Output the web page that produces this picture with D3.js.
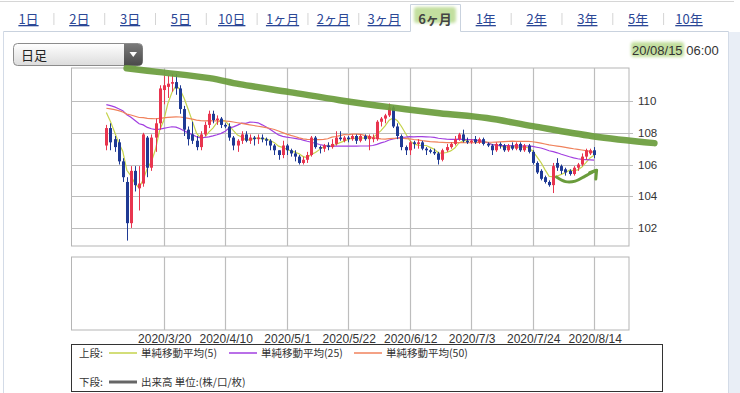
<!DOCTYPE html>
<html><head><meta charset="utf-8">
<script src="https://cdn.jsdelivr.net/npm/d3@7"></script>
<style>
html,body{margin:0;padding:0;background:#fff;}
svg{display:block;}
</style></head><body>
<svg id="c" width="740" height="393"></svg>
<script>
// ---------- data ----------
const tabs = ["1日","2日","3日","5日","10日","1ヶ月","2ヶ月","3ヶ月","6ヶ月","1年","2年","3年","5年","10年"];
const activeTab = "6ヶ月";
const periodLabel = "日足";
const stampDate = "20/08/15";
const stampTime = "06:00";
const firstDay = "2020-03-02", lastDay = "2020-08-14";
const tickDates = ["2020/3/20","2020/4/10","2020/5/1","2020/5/22","2020/6/12","2020/7/3","2020/7/24","2020/8/14"];
const yTicks = [102,104,106,108,110];
const yDomain = [100.86, 112.09];

// closes before the first visible bar (for moving averages)
const priorCloses = [109.37,109.39,109.62,109.44,108.87,108.61,108.68,108.54,108.08,108.37,108.43,109.08,109.51,109.45,109.94,109.98,109.89,110.14,110.15,110.17,109.87,109.85,109.48,109.27,108.88,109.18,109.03,108.97,108.35,108.66,109.52,109.84,109.96,109.75,109.77,109.83,110.08,109.82,109.77,109.87,110.00,111.40,112.08,111.57,110.74,110.21,110.42,109.56,107.89];

const opens = [107.2,108.3,107.6,107.4,106.2,104.9,102.3,105.6,104.5,104.8,
107.7,105.8,107.7,108.6,110.7,110.9,111.1,111.2,110.8,109.5,
108.2,107.9,107.5,107.1,107.9,108.5,109.2,108.8,108.9,108.5,
108.4,107.7,107.2,107.5,107.9,107.5,107.7,107.6,107.7,107.6,
107.5,107.2,106.9,106.6,107.2,106.9,106.7,106.5,106.1,106.3,
106.6,107.7,107.1,107.0,107.2,107.1,107.3,107.7,107.5,107.7,
107.6,107.8,107.5,107.8,107.6,107.6,107.6,108.7,108.9,109.1,
109.6,108.4,107.8,107.1,106.9,107.4,107.3,107.4,107.0,106.9,
106.8,106.7,106.3,106.9,107.1,107.3,107.6,107.9,107.5,107.4,
107.6,107.4,107.6,107.3,107.2,106.9,107.3,107.2,106.9,107.2,
107.0,107.3,106.9,107.2,106.8,106.1,105.6,105.2,104.9,104.7,
106.1,105.9,105.7,105.6,105.4,105.8,106.0,106.5,106.7,106.9];
const highs = [108.5,108.6,107.8,107.6,106.4,105.2,105.9,105.9,105.9,108.0,
107.8,107.9,108.9,111.0,111.6,111.6,111.7,111.7,111.0,109.7,
108.4,108.7,107.8,108.1,108.7,109.4,109.4,109.1,109.0,108.6,
108.6,107.8,107.6,108.1,108.1,107.9,107.8,107.9,107.9,107.7,
107.6,107.3,106.9,107.5,107.3,107.0,106.9,106.6,106.5,106.8,
107.8,107.8,107.2,107.3,107.4,107.6,108.1,108.1,107.8,107.8,
107.9,107.9,107.9,107.9,107.9,107.9,108.8,109.0,109.2,109.85,
109.7,108.6,107.9,107.2,107.5,107.5,107.6,107.5,107.1,107.0,
107.0,106.8,107.0,107.3,107.4,107.8,108.0,108.2,107.7,107.6,
107.8,107.7,107.7,107.4,107.3,107.4,107.4,107.3,107.3,107.4,
107.4,107.4,107.3,107.3,106.9,106.2,105.7,105.3,105.0,106.1,
106.4,106.0,105.8,105.7,105.9,106.1,106.7,107.0,107.0,107.1];
const lows = [106.9,106.9,106.8,106.0,104.9,101.2,102.0,104.3,103.1,104.6,
105.2,105.6,106.8,108.2,109.8,110.2,110.6,110.4,109.2,107.8,
107.2,107.3,106.9,106.9,107.8,108.3,108.6,108.5,108.3,108.3,
107.5,106.9,106.8,107.3,107.4,107.3,107.2,107.3,107.4,107.2,
106.9,106.6,106.3,106.4,106.6,106.5,106.2,106.0,106.0,106.1,
106.5,107.0,106.7,106.8,106.9,107.0,107.2,107.5,107.4,107.4,
107.5,107.3,107.4,107.5,106.9,107.4,107.5,108.4,108.6,109.0,
108.3,107.6,106.9,106.6,106.6,107.0,107.0,106.9,106.6,106.7,
106.6,106.0,106.2,106.8,107.0,107.2,107.5,107.4,107.3,107.3,
107.3,107.3,107.2,107.1,106.6,106.8,107.0,106.8,106.8,106.9,
106.9,106.8,106.8,106.7,106.0,105.4,105.0,104.8,104.6,104.2,
105.6,105.4,105.3,105.3,105.3,105.6,105.9,106.3,106.6,106.4];
const closes = [108.3,107.4,107.1,106.2,105.2,102.3,105.6,104.7,104.8,107.9,
105.8,107.7,108.6,110.8,111.0,111.1,111.2,110.8,109.5,108.2,
107.6,107.5,107.1,107.9,108.5,109.2,108.8,108.9,108.5,108.4,
107.7,107.2,107.5,107.9,107.5,107.7,107.6,107.7,107.6,107.5,
107.2,106.9,106.6,107.2,106.9,106.7,106.5,106.1,106.3,106.6,
107.7,107.1,107.0,107.2,107.1,107.3,107.7,107.6,107.7,107.6,
107.8,107.5,107.8,107.6,107.8,107.7,108.7,108.9,109.1,109.6,
108.4,107.8,107.1,106.9,107.4,107.3,107.4,107.0,106.9,106.8,
106.7,106.3,106.9,107.1,107.3,107.6,107.9,107.5,107.4,107.5,
107.4,107.6,107.3,107.2,106.9,107.3,107.2,106.9,107.2,107.0,
107.3,106.9,107.2,106.8,106.1,105.5,105.1,104.9,104.7,105.9,
105.8,105.6,105.5,105.4,105.8,106.0,106.5,106.9,106.9,106.6];

const maPeriods = [5,25,50];
const maNames = ["単純移動平均(5)","単純移動平均(25)","単純移動平均(50)"];
const maColors = ["#c5d34c","#a23fe0","#f0825c"];

// hand-drawn annotation, in (bar index, price) space
const annoLine = [[4.95,112.08],[13.0,111.83],[25.2,111.45],[32.5,111.07],[44.7,110.57],[56.9,110.06],[69.1,109.62],[81.3,109.24],[92.8,108.93],[104.0,108.42],[118.6,107.79],[133.7,107.35]];
const annoArrow = [[109.8,105.21],[112.0,104.92],[114.4,104.95],[116.8,105.27],[118.8,105.55],[119.6,105.62]];
const annoHead = [[117.9,105.49],[119.6,105.64],[119.4,105.08]];

// ---------- setup ----------
const svg = d3.select("#c");
const P = {l:71.5, r:629, t:68, b:246};
const V = {t:257, b:330};
const x = d3.scaleLinear().domain([-8.5,127.5]).range([P.l,P.r]);
const y = d3.scaleLinear().domain(yDomain).range([P.b,P.t]);
const fmt = d3.timeFormat("%Y/%-m/%-d");
const days = d3.timeDay.range(new Date(firstDay+"T00:00"), d3.timeDay.offset(new Date(lastDay+"T00:00"),1))
  .filter(d=>d.getDay()!==0 && d.getDay()!==6);
const dayLabels = days.map(fmt);
const idx = d3.range(closes.length);

const blur = svg.append("defs").append("filter").attr("id","bl").attr("x","-20%").attr("y","-40%").attr("width","140%").attr("height","180%");
blur.append("feGaussianBlur").attr("stdDeviation",1.4);

// page frame
svg.append("rect").attr("x",729).attr("y",32).attr("width",11).attr("height",361).attr("fill","#e9eef6");
svg.append("line").attr("x1",0).attr("x2",734).attr("y1",1.5).attr("y2",1.5).attr("stroke","#d6d6d6");
svg.append("line").attr("x1",3.5).attr("x2",3.5).attr("y1",31.5).attr("y2",393).attr("stroke","#d3dbe7");
svg.append("line").attr("x1",728.5).attr("x2",728.5).attr("y1",31.5).attr("y2",393).attr("stroke","#d3dbe7");
svg.append("path").attr("d","M3.5,31.5H410.5V4.5H460.5V31.5H728.5").attr("fill","none").attr("stroke","#c9d2de");

// tabs
const tx = d3.scalePoint().domain(tabs).range([28.5,689]);
const tabG = svg.append("g").attr("font-family","'Noto Sans CJK JP','Noto Sans',sans-serif").attr("font-size",13);
const aX = tx(activeTab);
tabG.append("rect").attr("x",aX-21).attr("y",7).attr("width",42).attr("height",16).attr("rx",3)
  .attr("fill","#c3df9f").attr("filter","url(#bl)");
tabs.forEach((t,i)=>{
  const on = t===activeTab;
  tabG.append("text").attr("x",tx(t)).attr("y",24).attr("text-anchor","middle")
    .attr("fill",on?"#444":"#2b4796").attr("font-weight",on?"bold":"normal")
    .style("text-decoration",on?"none":"underline").text(t);
  if(i<tabs.length-1 && !on && tabs[i+1]!==activeTab){
    const sx=(tx(t)+tx(tabs[i+1]))/2;
    tabG.append("line").attr("x1",sx).attr("x2",sx).attr("y1",13).attr("y2",25).attr("stroke","#d4d4d4");
  }
});

// dropdown
const grad = svg.select("defs").append("linearGradient").attr("id","gw").attr("x1",0).attr("x2",0).attr("y1",0).attr("y2",1);
grad.append("stop").attr("offset",0).attr("stop-color","#ffffff");
grad.append("stop").attr("offset",1).attr("stop-color","#dcdcdc");
const grad2 = svg.select("defs").append("linearGradient").attr("id","gd").attr("x1",0).attr("x2",0).attr("y1",0).attr("y2",1);
grad2.append("stop").attr("offset",0).attr("stop-color","#7a7a7a");
grad2.append("stop").attr("offset",1).attr("stop-color","#4a4a4a");
svg.append("rect").attr("x",13.5).attr("y",43.5).attr("width",129).attr("height",22).attr("rx",4).attr("fill","url(#gw)").attr("stroke","#8c8c8c");
svg.append("path").attr("d","M124,44 H138.5 A4,4 0 0 1 142.5,48 V61.5 A4,4 0 0 1 138.5,65.5 H124 Z").attr("fill","url(#gd)");
svg.append("path").attr("d","M129.5,52 L137,52 L133.25,57 Z").attr("fill","#fff");
svg.append("text").attr("x",21).attr("y",59.5).attr("font-family","'Noto Sans CJK JP',sans-serif").attr("font-size",13).attr("fill","#222").text(periodLabel);

// timestamp
svg.append("rect").attr("x",631).attr("y",42).attr("width",53).attr("height",15).attr("rx",3).attr("fill","#c3df9f").attr("filter","url(#bl)");
svg.append("text").attr("x",632).attr("y",54.5).attr("font-family","'Liberation Sans',Arial,sans-serif").attr("font-size",13).attr("fill","#333")
  .text(stampDate+" "+stampTime);

// ---------- upper panel ----------
const gridC = "#bdbdbd";
const tickIdx = tickDates.map(t=>dayLabels.indexOf(t));
const g = svg.append("g");
g.append("rect").attr("x",P.l).attr("y",P.t).attr("width",P.r-P.l).attr("height",P.b-P.t).attr("fill","#fff").attr("stroke","#b5b5b5");
g.selectAll(".hg").data(yTicks).join("line").attr("x1",P.l).attr("x2",P.r+4)
  .attr("y1",d=>Math.round(y(d))+0.5).attr("y2",d=>Math.round(y(d))+0.5).attr("stroke",gridC).attr("stroke-width",1.2);
g.selectAll(".vg").data(tickIdx).join("line").attr("x1",d=>Math.round(x(d))+0.5).attr("x2",d=>Math.round(x(d))+0.5)
  .attr("y1",P.t).attr("y2",P.b).attr("stroke",gridC).attr("stroke-width",1.2);
g.selectAll(".yl").data(yTicks).join("text").attr("x",P.r+9).attr("y",d=>y(d)+4)
  .attr("font-family","'Liberation Sans',Arial,sans-serif").attr("font-size",11.5).attr("fill","#333").text(d=>d);

// moving averages
const allC = priorCloses.concat(closes);
const off = priorCloses.length;
maPeriods.forEach((n,k)=>{
  const vals = idx.map(i=>d3.mean(allC.slice(off+i-n+1, off+i+1)));
  g.append("path").datum(vals).attr("fill","none").attr("stroke",maColors[k]).attr("stroke-width",1.2)
    .attr("d",d3.line().x((d,i)=>x(i)).y(d=>y(d)));
});

// candles
const up="#e8354f", dn="#1f3a94";
const cg = g.append("g");
idx.forEach(i=>{
  const o=opens[i], c=closes[i], col = c>=o?up:dn;
  const cx = Math.round(x(i))+0.5;
  cg.append("line").attr("x1",cx).attr("x2",cx).attr("y1",y(highs[i])).attr("y2",y(lows[i])).attr("stroke",col).attr("stroke-width",1);
  const y0=y(Math.max(o,c)), y1=y(Math.min(o,c));
  cg.append("rect").attr("x",cx-1.5).attr("y",y0).attr("width",3).attr("height",Math.max(1,y1-y0)).attr("fill",col);
});

// annotation
const ann = svg.append("g").attr("fill","none").attr("stroke","#6a9c3c").attr("stroke-linecap","round").attr("stroke-linejoin","round");
ann.append("path").datum(annoLine).attr("stroke-width",6.5).attr("opacity",0.92)
  .attr("d",d3.line().x(d=>x(d[0])).y(d=>y(d[1])).curve(d3.curveCatmullRom));
ann.append("path").datum(annoArrow).attr("stroke-width",3)
  .attr("d",d3.line().x(d=>x(d[0])).y(d=>y(d[1])).curve(d3.curveCatmullRom));
ann.append("path").datum(annoHead).attr("stroke-width",3)
  .attr("d",d3.line().x(d=>x(d[0])).y(d=>y(d[1])));

// ---------- volume panel ----------
svg.append("rect").attr("x",P.l).attr("y",V.t).attr("width",P.r-P.l).attr("height",V.b-V.t).attr("fill","#fff").attr("stroke","#b5b5b5");
svg.selectAll(".vv").data(tickIdx).join("line").attr("x1",d=>Math.round(x(d))+0.5).attr("x2",d=>Math.round(x(d))+0.5)
  .attr("y1",V.t).attr("y2",V.b).attr("stroke",gridC).attr("stroke-width",1.2);
svg.selectAll(".xl").data(tickIdx).join("text").attr("x",d=>x(d)+1).attr("y",343)
  .attr("text-anchor","middle").attr("font-family","'Liberation Sans',Arial,sans-serif").attr("font-size",12).attr("fill","#333")
  .text((d,i)=>tickDates[i]);

// ---------- legend ----------
const L = svg.append("g").attr("font-family","'Noto Sans CJK JP',sans-serif").attr("font-size",10.5).attr("fill","#333");
L.append("rect").attr("x",P.l).attr("y",344.5).attr("width",591).attr("height",47).attr("fill","#fff").attr("stroke","#333");
L.append("text").attr("x",79).attr("y",357).text("上段:");
const legX = [109,229,354];
maNames.forEach((nm,k)=>{
  L.append("line").attr("x1",legX[k]).attr("x2",legX[k]+28).attr("y1",353).attr("y2",353).attr("stroke",maColors[k]).attr("stroke-width",1.5);
  L.append("text").attr("x",legX[k]+32).attr("y",357).text(nm);
});
L.append("text").attr("x",79).attr("y",386).text("下段:");
L.append("line").attr("x1",109).attr("x2",137).attr("y1",382).attr("y2",382).attr("stroke","#666").attr("stroke-width",3);
L.append("text").attr("x",141).attr("y",386).text("出来高 単位:(株/口/枚)");
</script>
</body></html>
